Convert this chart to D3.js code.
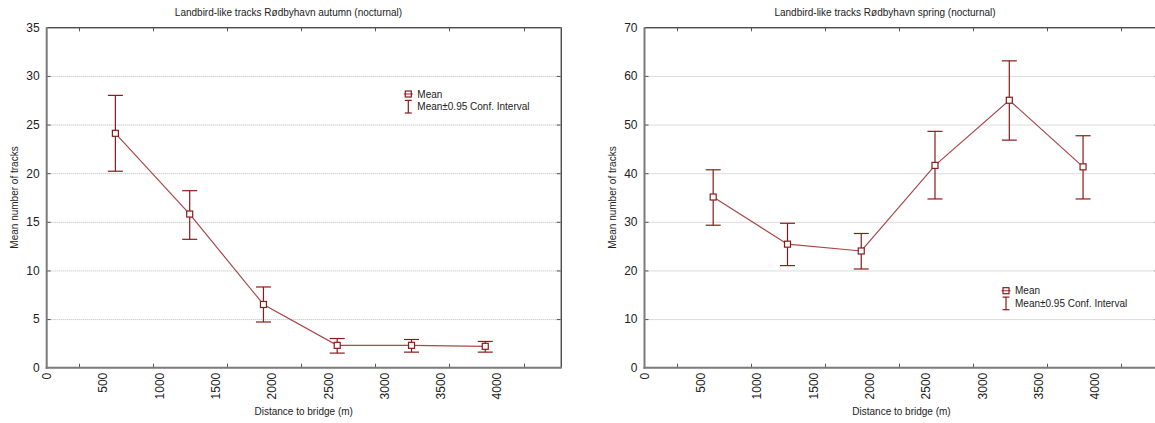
<!DOCTYPE html>
<html>
<head>
<meta charset="utf-8">
<script src="https://cdn.jsdelivr.net/npm/d3@7/dist/d3.min.js"></script>
<style>
  html, body { margin: 0; padding: 0; background: #fff; }
  svg { display: block; font-family: "Liberation Sans", Arial, sans-serif; }
</style>
</head>
<body>
<svg id="chart" width="1155" height="423"></svg>
<script>
// ---- data ----
const distances = [610, 1270, 1925, 2580, 3240, 3895];
const autumnMean = [24.1, 15.8, 6.5, 2.3, 2.3, 2.2];
const autumnLow  = [20.2, 13.2, 4.7, 1.5, 1.6, 1.6];
const autumnHigh = [28.0, 18.2, 8.3, 3.0, 2.9, 2.7];
const springMean = [35.1, 25.4, 24.0, 41.6, 55.0, 41.3];
const springLow  = [29.3, 21.0, 20.3, 34.7, 46.8, 34.7];
const springHigh = [40.7, 29.7, 27.6, 48.6, 63.1, 47.7];
const xTickLabels = [0, 500, 1000, 1500, 2000, 2500, 3000, 3500, 4000];
const xTickMarks = [290, 945, 1600, 2260, 2920, 3575, 4235];
const xDomain = [0, 4565];
const autumnYTicks = [0, 5, 10, 15, 20, 25, 30, 35];
const springYTicks = [0, 10, 20, 30, 40, 50, 60, 70];
const titles = ["Landbird-like tracks Rødbyhavn autumn (nocturnal)", "Landbird-like tracks Rødbyhavn spring (nocturnal)"];
const xTitle = "Distance to bridge (m)";
const yTitle = "Mean number of tracks";
const legendLabels = ["Mean", "Mean\u00b10.95 Conf. Interval"];

const svg = d3.select("#chart");
const markColor = "#8b1a1a";
const lineColor = "#a84848";

function drawPanel(opt) {
  const x = d3.scaleLinear().domain(xDomain).range([opt.left, opt.right]);
  const y = d3.scaleLinear().domain([0, opt.yMax]).range([367.7, 27.3]);
  const g = svg.append("g");
  const top = y(opt.yMax), bottom = y(0);

  // gridlines
  g.selectAll("line.grid").data(opt.yTicks.filter(t => t > 0 && t < opt.yMax)).join("line")
    .attr("x1", opt.left).attr("x2", opt.right)
    .attr("y1", d => y(d) + 0.5).attr("y2", d => y(d) + 0.5)
    .attr("stroke", "#b8b8b8").attr("stroke-width", 1).attr("stroke-dasharray", "1,1");

  // frame: top and right thin black
  g.append("line").attr("x1", opt.left).attr("x2", opt.right).attr("y1", top + 0.5).attr("y2", top + 0.5)
    .attr("stroke", "#000").attr("stroke-width", 1);
  g.append("line").attr("x1", opt.right + 0.5).attr("x2", opt.right + 0.5).attr("y1", top).attr("y2", bottom)
    .attr("stroke", "#000").attr("stroke-width", 1);

  // x tick marks (bottom up, top down)
  g.selectAll("line.xtb").data(xTickMarks).join("line")
    .attr("x1", d => Math.round(x(d)) + 0.5).attr("x2", d => Math.round(x(d)) + 0.5)
    .attr("y1", bottom).attr("y2", bottom - 4).attr("stroke", "#555");
  g.selectAll("line.xtt").data(xTickMarks).join("line")
    .attr("x1", d => Math.round(x(d)) + 0.5).attr("x2", d => Math.round(x(d)) + 0.5)
    .attr("y1", top).attr("y2", top + 4).attr("stroke", "#555");
  // y tick marks on right (inward) and left (inward)
  g.selectAll("line.ytr").data(opt.yTicks.filter(t => t > 0 && t < opt.yMax)).join("line")
    .attr("x1", opt.right).attr("x2", opt.right - 4)
    .attr("y1", d => y(d) + 0.5).attr("y2", d => y(d) + 0.5).attr("stroke", "#555");
  g.selectAll("line.ytl").data(opt.yTicks.filter(t => t > 0 && t < opt.yMax)).join("line")
    .attr("x1", opt.left).attr("x2", opt.left + 4)
    .attr("y1", d => y(d) + 0.5).attr("y2", d => y(d) + 0.5).attr("stroke", "#555");

  // axes lines: grey 2px
  g.append("line").attr("x1", opt.left).attr("x2", opt.left).attr("y1", top).attr("y2", bottom + 1)
    .attr("stroke", "#7a7a7a").attr("stroke-width", 2);
  g.append("line").attr("x1", opt.left - 1).attr("x2", opt.right + 1).attr("y1", bottom).attr("y2", bottom)
    .attr("stroke", "#7a7a7a").attr("stroke-width", 2);

  // y tick labels
  g.selectAll("text.yl").data(opt.yTicks).join("text")
    .attr("x", opt.left - 7).attr("y", d => y(d)).attr("dy", "0.36em")
    .attr("text-anchor", "end").attr("font-size", 12).attr("fill", "#222")
    .text(d => d);

  // x tick labels, rotated
  g.selectAll("text.xl").data(xTickLabels).join("text")
    .attr("transform", d => `translate(${x(d)},${bottom + 5}) rotate(-90)`)
    .attr("dy", "0.36em").attr("text-anchor", "end").attr("font-size", 12).attr("fill", "#222")
    .text(d => d);

  // titles
  g.append("text").attr("x", opt.titleX).attr("y", 16).attr("text-anchor", "middle")
    .attr("font-size", 10).attr("fill", "#222").text(opt.title);
  g.append("text").attr("x", (opt.left + opt.right) / 2).attr("y", 415).attr("text-anchor", "middle")
    .attr("font-size", 10).attr("fill", "#222").text(xTitle);
  g.append("text").attr("transform", `translate(${opt.left - 29},${(top + bottom) / 2}) rotate(-90)`)
    .attr("text-anchor", "middle").attr("font-size", 10).attr("fill", "#222").text(yTitle);

  // line
  const pts = distances.map((d, i) => [d, opt.mean[i]]);
  g.append("path").datum(pts)
    .attr("d", d3.line().x(d => x(d[0])).y(d => y(d[1])))
    .attr("fill", "none").attr("stroke", lineColor).attr("stroke-width", 1.2);

  // error bars
  const cap = 7.5;
  const eb = g.selectAll("g.eb").data(distances.map((d, i) => ({ d, lo: opt.low[i], hi: opt.high[i], m: opt.mean[i] }))).join("g");
  eb.append("line").attr("x1", d => x(d.d)).attr("x2", d => x(d.d)).attr("y1", d => y(d.lo)).attr("y2", d => y(d.hi))
    .attr("stroke", markColor).attr("stroke-width", 1.2);
  eb.append("line").attr("x1", d => x(d.d) - cap).attr("x2", d => x(d.d) + cap).attr("y1", d => y(d.hi)).attr("y2", d => y(d.hi))
    .attr("stroke", markColor).attr("stroke-width", 1.2);
  eb.append("line").attr("x1", d => x(d.d) - cap).attr("x2", d => x(d.d) + cap).attr("y1", d => y(d.lo)).attr("y2", d => y(d.lo))
    .attr("stroke", markColor).attr("stroke-width", 1.2);
  eb.append("rect").attr("x", d => x(d.d) - 3).attr("y", d => y(d.m) - 3).attr("width", 6).attr("height", 6)
    .attr("fill", "#fff").attr("stroke", markColor).attr("stroke-width", 1.2);

  // legend
  const lx = opt.legendX, ly = opt.legendY;
  g.append("line").attr("x1", lx - 4.5).attr("x2", lx + 4.5).attr("y1", ly).attr("y2", ly)
    .attr("stroke", lineColor).attr("stroke-width", 1.2);
  g.append("rect").attr("x", lx - 3).attr("y", ly - 3).attr("width", 6).attr("height", 6)
    .attr("fill", "#fff").attr("fill-opacity", 0).attr("stroke", markColor).attr("stroke-width", 1.2);
  g.append("text").attr("x", lx + 9).attr("y", ly).attr("dy", "0.35em").attr("font-size", 10)
    .attr("fill", "#222").text(legendLabels[0]);
  const ly2 = ly + 12.7;
  g.append("line").attr("x1", lx).attr("x2", lx).attr("y1", ly2 - 6.3).attr("y2", ly2 + 6.3)
    .attr("stroke", markColor).attr("stroke-width", 1.2);
  g.append("line").attr("x1", lx - 3.5).attr("x2", lx + 3.5).attr("y1", ly2 - 6.3).attr("y2", ly2 - 6.3)
    .attr("stroke", markColor).attr("stroke-width", 1.2);
  g.append("line").attr("x1", lx - 3.5).attr("x2", lx + 3.5).attr("y1", ly2 + 6.3).attr("y2", ly2 + 6.3)
    .attr("stroke", markColor).attr("stroke-width", 1.2);
  g.append("text").attr("x", lx + 9).attr("y", ly2).attr("dy", "0.35em").attr("font-size", 10)
    .attr("fill", "#222").text(legendLabels[1]);
}

drawPanel({ left: 46.7, right: 560.7, yMax: 35, yTicks: autumnYTicks, mean: autumnMean, low: autumnLow, high: autumnHigh,
  title: titles[0], titleX: 288.5, legendX: 408.3, legendY: 94 });
drawPanel({ left: 644.5, right: 1158.5, yMax: 70, yTicks: springYTicks, mean: springMean, low: springLow, high: springHigh,
  title: titles[1], titleX: 885, legendX: 1006, legendY: 290.7 });
</script>
</body>
</html>
